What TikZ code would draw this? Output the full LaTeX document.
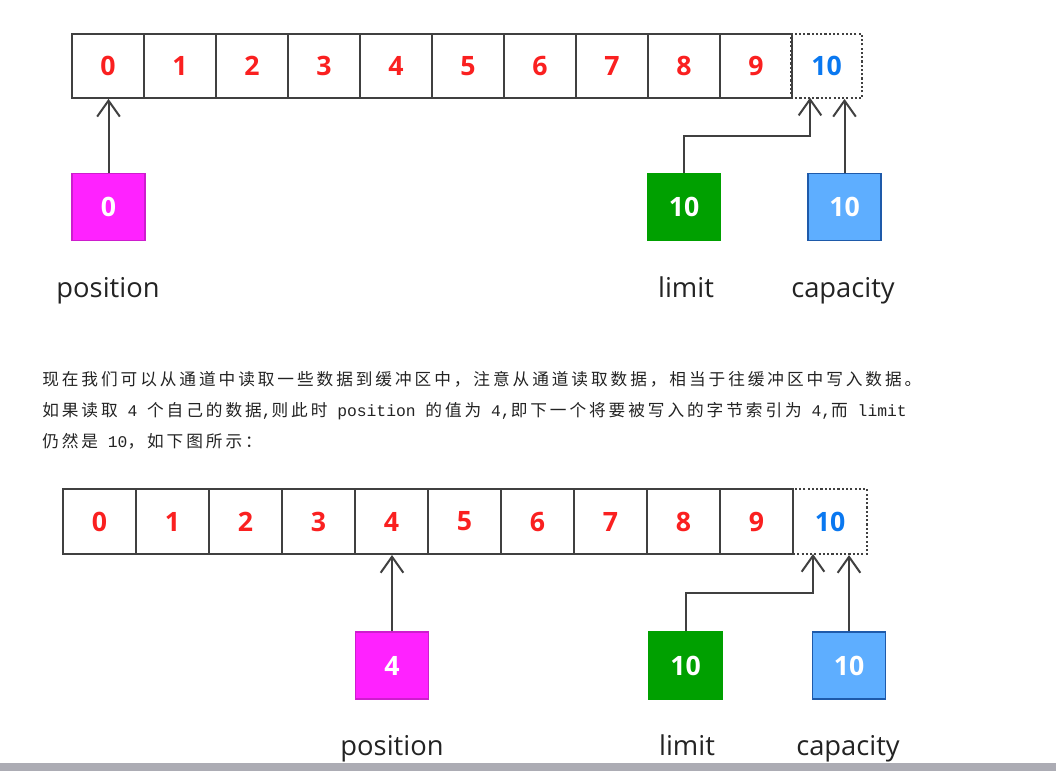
\documentclass[tikz,border=0pt]{standalone}
\usepackage{fontspec}
\setmainfont{Open Sans}
\newfontfamily\cjk[LetterSpace=17.6]{Noto Sans CJK SC}
\newfontfamily\lat{Liberation Mono}
\usepackage{xcolor}
\usetikzlibrary{arrows.meta}
\definecolor{wire}{RGB}{64,64,64}
\definecolor{idxred}{RGB}{250,32,32}
\definecolor{idxblue}{RGB}{10,120,240}
\definecolor{posfill}{RGB}{255,34,255}
\definecolor{posline}{RGB}{205,30,205}
\definecolor{limfill}{RGB}{0,160,0}
\definecolor{capfill}{RGB}{94,174,255}
\definecolor{capline}{RGB}{30,90,170}
\definecolor{inkgray}{RGB}{35,35,35}
\definecolor{barcol}{RGB}{172,172,180}
\newcommand{\en}[1]{{\lat\fontsize{12.25}{14}\selectfont #1}}

\begin{document}
\begin{tikzpicture}[x=0.75pt, y=-0.75pt,
  cell/.style={draw=wire, line width=1.5pt, inner sep=0pt, text=idxred,
               font=\bfseries\fontsize{20}{20}\selectfont},
  endcell/.style={cell, text=idxblue, line width=1.6pt, dash pattern=on 1.6pt off 1.6pt},
  markbox/.style={draw, line width=1.2pt, minimum width=55pt, minimum height=50pt,
                  inner sep=0pt, text=white, font=\bfseries\fontsize{20}{20}\selectfont},
  tag/.style={anchor=base, text=inkgray, font=\fontsize{20.5}{22}\selectfont},
  para/.style={anchor=base west, inner sep=0pt, text=inkgray,
               font=\fontsize{12.5}{14}\selectfont},
  ptr/.style={draw=wire, line width=1.5pt, -{Straight Barb[length=12pt, width=17pt]}}
]
  \useasboundingbox (0,0) rectangle (1056,771);

  % upper buffer
  \node[endcell, minimum width=53.5pt, minimum height=47.8pt] (t10) at (826.5,66) {10};
  \foreach \i in {0,...,9}
    \node[cell, minimum width=54pt, minimum height=47.8pt] (t\i) at (108+72*\i,66) {\i};

  \node[markbox, fill=posfill, draw=posline] (tpos) at (108.5,207) {0};
  \node[markbox, fill=limfill, draw=limfill] (tlim) at (684,207) {10};
  \node[markbox, fill=capfill, draw=capline] (tcap) at (844.5,207) {10};

  \coordinate (tlend) at (810,97.7);
  \draw[ptr] (tpos.north) -- (tpos.north |- t0.south);
  \draw[ptr] (tlim.north) -- ++(0,-37) -| (tlend);
  \draw[ptr] (tcap.north) -- (tcap.north |- t10.south);

  \node[tag] (tposl) at (108,297) {position};
  \node[tag] (tliml) at (686,297) {limit};
  \node[tag] (tcapl) at (843,297) {capacity};

  % text
  \node[para] (p1) at (42,385) {\cjk 现在我们可以从通道中读取一些数据到缓冲区中，注意从通道读取数据，相当于往缓冲区中写入数据。};
  \node[para] (p2) at (42,416) {\cjk 如果读取\en{\ 4\ }个自己的数据\en{,}则此时\en{\ position\ }的值为\en{\ 4,}即下一个将要被写入的字节索引为\en{\ 4,}而\en{\ limit}};
  \node[para] (p3) at (42,447) {\cjk 仍然是\en{\ 10}，如下图所示：};

  % lower buffer
  \node[endcell, minimum width=55.5pt, minimum height=48.75pt] (b10) at (830,521.5) {10};
  \foreach \i in {0,...,9}
    \node[cell, minimum width=54.75pt, minimum height=48.75pt] (b\i) at (99.5+73*\i,521.5) {\i};

  \node[markbox, fill=posfill, draw=posline] (bpos) at (392,665.5) {4};
  \node[markbox, fill=limfill, draw=limfill] (blim) at (685.5,665.5) {10};
  \node[markbox, fill=capfill, draw=capline] (bcap) at (849,665.5) {10};

  \coordinate (blend) at (813,554);
  \draw[ptr] (bpos.north) -- (bpos.north |- b4.south);
  \draw[ptr] (blim.north) -- ++(0,-38) -| (blend);
  \draw[ptr] (bcap.north) -- (bcap.north |- b10.south);

  \node[tag] (bposl) at (392,755) {position};
  \node[tag] (bliml) at (687,755) {limit};
  \node[tag] (bcapl) at (848,755) {capacity};

  \fill[barcol] (0,763) rectangle (1056,771);
\end{tikzpicture}
\end{document}
